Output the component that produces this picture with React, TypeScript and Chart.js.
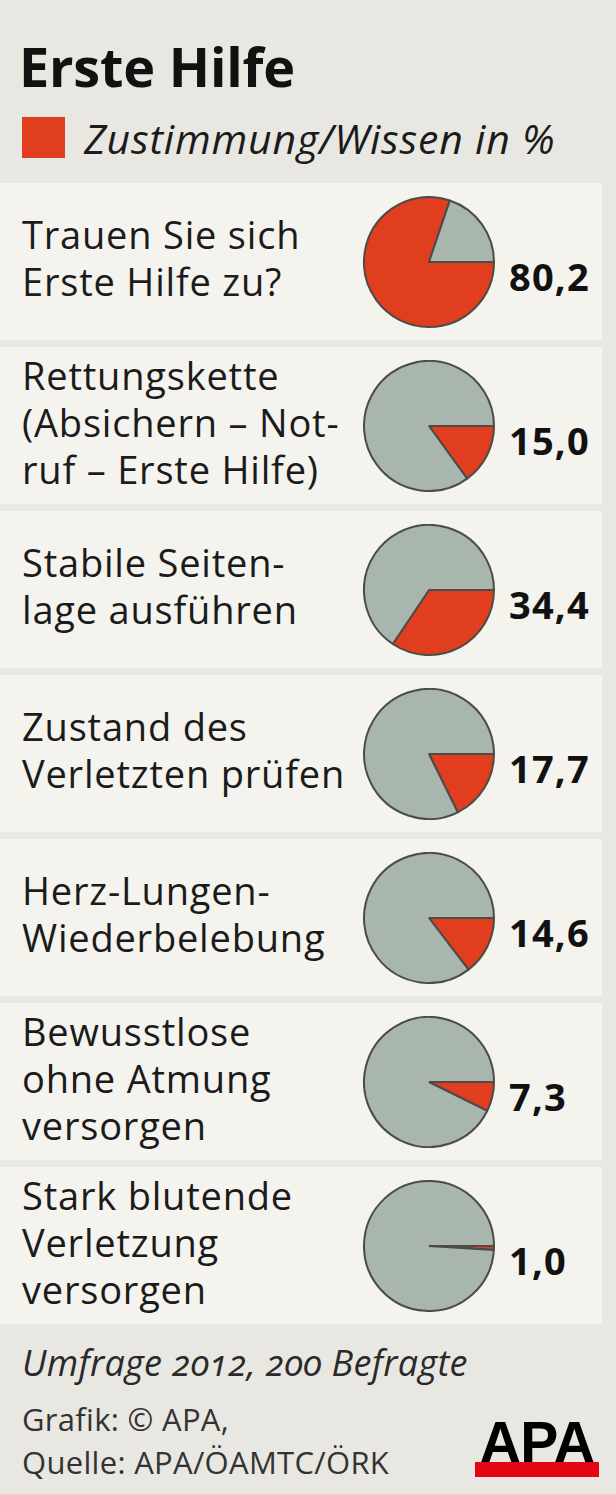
import React, { useEffect, useRef } from "react";
import { Chart, registerables } from "chart.js";

Chart.register(...registerables);

const title = "Erste Hilfe";
const legendLabel = "Zustimmung/Wissen in %";
const categories: string[][] = [
  ["Trauen Sie sich", "Erste Hilfe zu?"],
  ["Rettungskette", "(Absichern – Not-", "ruf – Erste Hilfe)"],
  ["Stabile Seiten-", "lage ausführen"],
  ["Zustand des", "Verletzten prüfen"],
  ["Herz-Lungen-", "Wiederbelebung"],
  ["Bewusstlose", "ohne Atmung", "versorgen"],
  ["Stark blutende", "Verletzung", "versorgen"],
];
const values: number[] = [80.2, 15.0, 34.4, 17.7, 14.6, 7.3, 1.0];
const footnote = "Umfrage 2012, 200 Befragte";
const credits = ["Grafik: © APA,", "Quelle: APA/ÖAMTC/ÖRK"];

const RED = "#e03e1f";
const GRAY = "#a8b6ae";
const BORDER = "#4b4b48";
const PAGE_BG = "#e9e7e1";
const PANEL_BG = "#f4f3ee";
const FONT = "'Open Sans', sans-serif";

const PANEL_TOP = 183;
const PANEL_H = 157;
const PANEL_PITCH = 164;
const PIE_SIZE = 132;
const PIE_CX = 429;

function Pie({ value }: { value: number }) {
  const ref = useRef<HTMLCanvasElement | null>(null);
  useEffect(() => {
    if (!ref.current) return;
    const chart = new Chart(ref.current, {
      type: "pie",
      data: {
        labels: ["Zustimmung/Wissen", "Rest"],
        datasets: [
          {
            data: [value, 100 - value],
            backgroundColor: [RED, GRAY],
            borderColor: BORDER,
            borderWidth: 2,
            offset: 0,
            hoverOffset: 0,
          },
        ],
      },
      options: {
        animation: false,
        responsive: false,
        rotation: 90,
        events: [],
        layout: { padding: 0 },
        plugins: { legend: { display: false }, tooltip: { enabled: false } },
      },
    });
    return () => chart.destroy();
  }, [value]);
  return <canvas ref={ref} width={PIE_SIZE} height={PIE_SIZE} style={{ width: PIE_SIZE, height: PIE_SIZE, display: "block" }} />;
}

export default function App() {
  useEffect(() => {
    document.body.style.margin = "0";
  }, []);

  return (
    <div style={{ position: "relative", width: 616, height: 1494, background: PAGE_BG, fontFamily: FONT, color: "#1b1b1b", overflow: "hidden" }}>
      <div style={{ position: "absolute", left: 19, top: 39, fontSize: 54, lineHeight: "54px", fontWeight: 700, color: "#111", letterSpacing: -0.2 }}>
        {title}
      </div>
      <div style={{ position: "absolute", left: 22, top: 117, width: 43, height: 41, background: RED }} />
      <div style={{ position: "absolute", left: 84, top: 115, fontSize: 41, lineHeight: "46px", fontStyle: "italic", color: "#1b1b1b", letterSpacing: 0.8 }}>
        {legendLabel}
      </div>

      {values.map((v, i) => {
        const top = PANEL_TOP + i * PANEL_PITCH;
        const cy = top + PANEL_H / 2;
        return (
          <React.Fragment key={i}>
            <div style={{ position: "absolute", left: 0, top, width: 602, height: PANEL_H, background: PANEL_BG }} />
            <div style={{ position: "absolute", left: 22, top, height: PANEL_H - 7, display: "flex", flexDirection: "column", justifyContent: "center", fontSize: 38, lineHeight: "47px", whiteSpace: "nowrap", letterSpacing: 0.8 }}>
              {categories[i].map((line, j) => (
                <div key={j}>{line}</div>
              ))}
            </div>
            <div style={{ position: "absolute", left: PIE_CX - PIE_SIZE / 2, top: cy - PIE_SIZE / 2 }}>
              <Pie value={v} />
            </div>
            <div style={{ position: "absolute", left: 509, top: cy - 5, fontSize: 38, lineHeight: "38px", fontWeight: 700, color: "#111", letterSpacing: 1.2 }}>
              {v.toFixed(1).replace(".", ",")}
            </div>
          </React.Fragment>
        );
      })}

      <div style={{ position: "absolute", left: 22, top: 1341, fontSize: 36, lineHeight: "44px", fontStyle: "italic", color: "#2a2a2a", fontVariantNumeric: "oldstyle-nums", letterSpacing: 0.3 }}>
        {footnote}
      </div>
      <div style={{ position: "absolute", left: 22, top: 1398, fontSize: 31, lineHeight: "43px", color: "#333", letterSpacing: 0.3 }}>
        {credits.map((c, j) => (
          <div key={j}>{c}</div>
        ))}
      </div>
      <div style={{ position: "absolute", left: 473, top: 1414, width: 128, textAlign: "center", fontFamily: "'Liberation Sans', Arial, sans-serif", fontWeight: 700, fontSize: 57, lineHeight: "56px", color: "#000", letterSpacing: -0.5 }}>
        APA
      </div>
      <div style={{ position: "absolute", left: 475, top: 1462, width: 124, height: 15, background: "#e30613" }} />
    </div>
  );
}
